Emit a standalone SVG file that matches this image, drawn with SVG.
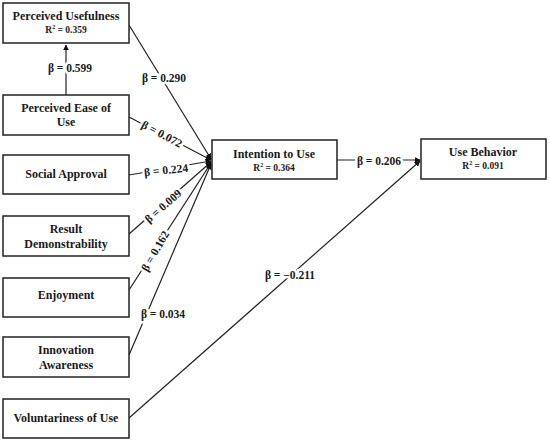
<svg xmlns="http://www.w3.org/2000/svg" width="550" height="445" viewBox="0 0 550 445">
<defs>
<marker id="ah" viewBox="0 0 10 10" refX="9" refY="5" markerWidth="6" markerHeight="6" markerUnits="userSpaceOnUse" orient="auto"><path d="M0,0 L10,5 L0,10 z" fill="#111"/></marker>
</defs>
<style>
.box{fill:#fff;stroke:#222;stroke-width:1.5}
.t{font-family:"Liberation Serif","Times New Roman",serif;font-weight:bold;font-size:12px;fill:#1a1a1a;text-anchor:middle}
.r{font-family:"Liberation Serif","Times New Roman",serif;font-weight:bold;font-size:9.5px;fill:#1a1a1a;text-anchor:middle}
.l{font-family:"Liberation Serif","Times New Roman",serif;font-weight:bold;font-size:11.5px;fill:#1a1a1a;text-anchor:middle;dominant-baseline:central;stroke:#fff;stroke-width:5;paint-order:stroke}
.c{stroke:#222;stroke-width:1.2;fill:none;marker-end:url(#ah)}
</style>
<rect width="550" height="445" fill="#fff"/>
<g id="connectors">
<line class="c" x1="66" y1="95" x2="66" y2="45"/>
<line class="c" x1="129" y1="25" x2="211" y2="159"/>
<line class="c" x1="129" y1="117" x2="211" y2="160"/>
<line class="c" x1="129" y1="175" x2="211" y2="161"/>
<line class="c" x1="129" y1="234" x2="211" y2="162"/>
<line class="c" x1="129" y1="290" x2="211" y2="163"/>
<line class="c" x1="129" y1="355" x2="211" y2="164"/>
<line class="c" x1="337" y1="160" x2="420" y2="160"/>
<line class="c" x1="129" y1="418" x2="420" y2="161"/>
<text class="l" x="70" y="68">β = 0.599</text>
<text class="l" x="164" y="78">β = 0.290</text>
<text class="l" x="162" y="134" transform="rotate(28 162 134)">β = 0.072</text>
<text class="l" x="166" y="170" transform="rotate(-6 166 170)">β = 0.224</text>
<text class="l" x="163" y="206" transform="rotate(-41 163 206)">β = 0.009</text>
<text class="l" x="155" y="251" transform="rotate(-60 155 251)">β = 0.162</text>
<text class="l" x="163" y="314">β = 0.034</text>
<text class="l" x="379" y="161">β = 0.206</text>
<text class="l" x="290" y="275">β = −0.211</text>
</g>
<g id="perceived-usefulness"><rect class="box" x="3" y="3" width="126" height="40"/><text class="t" x="66" y="20">Perceived Usefulness</text><text class="r" x="66" y="33">R<tspan font-size="6" dy="-4">2</tspan><tspan dy="4"> = 0.359</tspan></text></g>
<g id="perceived-ease"><rect class="box" x="3" y="95" width="126" height="40"/><text class="t" x="66" y="112">Perceived Ease of</text><text class="t" x="66" y="126">Use</text></g>
<g id="social-approval"><rect class="box" x="3" y="155" width="126" height="39"/><text class="t" x="66" y="178">Social Approval</text></g>
<g id="result-demonstrability"><rect class="box" x="3" y="216" width="126" height="40"/><text class="t" x="66" y="233">Result</text><text class="t" x="66" y="248">Demonstrability</text></g>
<g id="enjoyment"><rect class="box" x="3" y="278" width="126" height="39"/><text class="t" x="66" y="299">Enjoyment</text></g>
<g id="innovation-awareness"><rect class="box" x="3" y="337" width="126" height="40"/><text class="t" x="66" y="354">Innovation</text><text class="t" x="66" y="369">Awareness</text></g>
<g id="voluntariness"><rect class="box" x="3" y="399" width="126" height="39"/><text class="t" x="66" y="422">Voluntariness of Use</text></g>
<g id="intention"><rect class="box" x="212" y="140" width="125" height="39"/><text class="t" x="274" y="158">Intention to Use</text><text class="r" x="274" y="171">R<tspan font-size="6" dy="-4">2</tspan><tspan dy="4"> = 0.364</tspan></text></g>
<g id="use-behavior"><rect class="box" x="421" y="139" width="125" height="40"/><text class="t" x="483" y="156">Use Behavior</text><text class="r" x="483" y="169">R<tspan font-size="6" dy="-4">2</tspan><tspan dy="4"> = 0.091</tspan></text></g>
</svg>
